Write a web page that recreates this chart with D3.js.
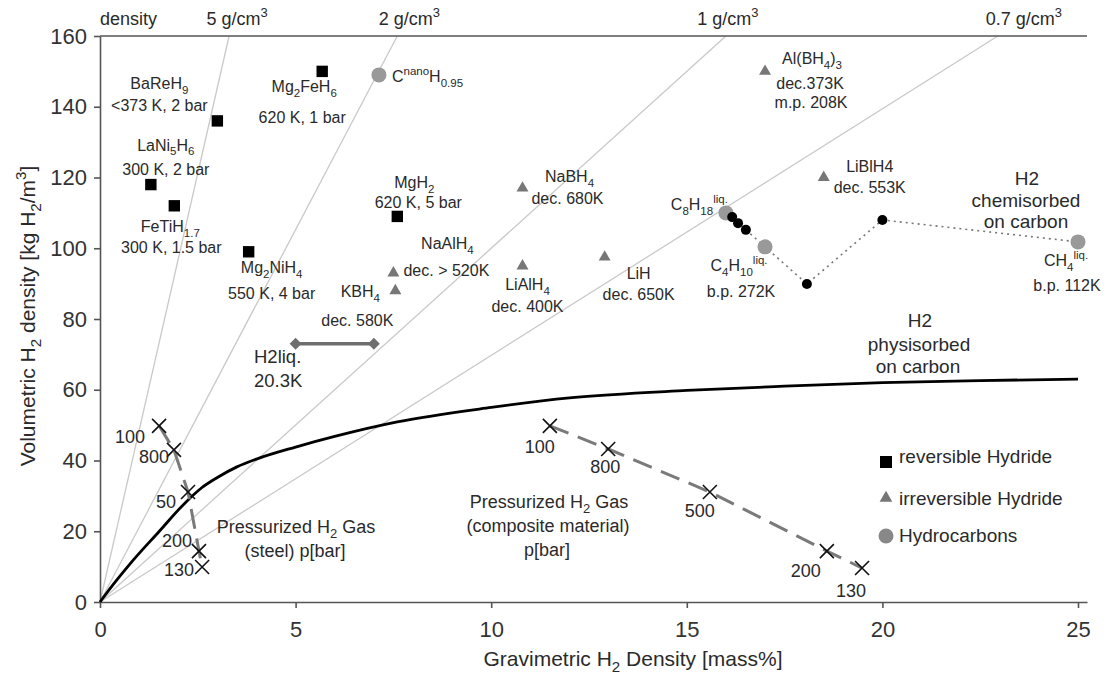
<!DOCTYPE html>
<html>
<head>
<meta charset="utf-8">
<script src="https://cdn.jsdelivr.net/npm/d3@7"></script>
<style>
  body { margin: 0; background: #fff; }
  svg { font-family: "Liberation Sans", Arial, sans-serif; }
</style>
</head>
<body>
<svg id="chart" width="1115" height="675"></svg>
<script>
// ---- data ----
const xTicks = [0, 5, 10, 15, 20, 25]
const yTicks = [0, 20, 40, 60, 80, 100, 120, 140, 160]

// iso-density lines run from the origin to where they hit the top (y = 160)
const densityLines = [
  {label: "5 g/cm{^3}", xTop: 3.3},
  {label: "2 g/cm{^3}", xTop: 7.6},
  {label: "1 g/cm{^3}", xTop: 16.0},
  {label: "0.7 g/cm{^3}", xTop: 22.95}
]

const reversible = [
  {name: "BaReH{_9}", notes: ["<373 K, 2 bar"], x: 3.0, y: 136},
  {name: "Mg{_2}FeH{_6}", notes: ["620 K, 1 bar"], x: 5.68, y: 150},
  {name: "LaNi{_5}H{_6}", notes: ["300 K, 2 bar"], x: 1.3, y: 118},
  {name: "FeTiH{_1.7}", notes: ["300 K, 1.5 bar"], x: 1.9, y: 112},
  {name: "Mg{_2}NiH{_4}", notes: ["550 K, 4 bar"], x: 3.8, y: 99},
  {name: "MgH{_2}", notes: ["620 K, 5 bar"], x: 7.6, y: 109}
]

const irreversible = [
  {name: "Al(BH{_4}){_3}", notes: ["dec.373K", "m.p. 208K"], x: 17.0, y: 150},
  {name: "LiBlH4", notes: ["dec. 553K"], x: 18.5, y: 120},
  {name: "NaBH{_4}", notes: ["dec. 680K"], x: 10.8, y: 117},
  {name: "NaAlH{_4}", notes: ["dec. > 520K"], x: 7.5, y: 93},
  {name: "KBH{_4}", notes: ["dec. 580K"], x: 7.55, y: 88},
  {name: "LiAlH{_4}", notes: ["dec. 400K"], x: 10.8, y: 95},
  {name: "LiH", notes: ["dec. 650K"], x: 12.9, y: 97.5}
]

const hydrocarbons = [
  {name: "C{^nano}H{_0.95}", notes: [], x: 7.13, y: 149},
  {name: "C{_8}H{_18}{^liq.}", notes: [], x: 16.0, y: 110},
  {name: "C{_4}H{_10}{^liq.}", notes: ["b.p. 272K"], x: 17.0, y: 100.4},
  {name: "CH{_4}{^liq.}", notes: ["b.p. 112K"], x: 25.0, y: 101.8}
]

// chemisorption path (dotted), black dots are the intermediate points
const chemiX = [16.0, 16.16, 16.31, 16.51, 17.0, 18.07, 20.0, 25.0]
const chemiY = [110, 108.8, 107.1, 105.2, 100.4, 89.9, 108, 101.8]
const chemiDots = [1, 2, 3, 5, 6]

const physiX = [0, 0.4, 0.8, 1.5, 2.2, 2.6, 3.0, 3.5, 4.0, 5.0, 6.0, 7.6, 10, 12, 15, 17.5, 20, 22.5, 25]
const physiY = [0, 5.8, 11.2, 19.8, 28.3, 32.3, 35.2, 38.2, 40.4, 43.8, 46.8, 50.9, 55, 57.7, 59.8, 61, 62, 62.6, 63]

const steelX = [1.51, 1.89, 2.25, 2.53, 2.61]
const steelY = [49.8, 43.0, 31.1, 14.4, 9.9]
const steelP = ["100", "800", "50", "200", "130"]

const compX = [11.5, 12.99, 15.59, 18.58, 19.48]
const compY = [49.8, 43.25, 31.1, 14.4, 9.6]
const compP = ["100", "800", "500", "200", "130"]

const h2liq = {x0: 5, x1: 7, y: 73}

const legendItems = ["reversible Hydride", "irreversible Hydride", "Hydrocarbons"]

// ---- layout: label offsets in px from the marker [dx, baseline dy] ----
const labelAt = {
  "BaReH{_9}": [[-58, -32], [-58, -10]],
  "Mg{_2}FeH{_6}": [[-18, 21], [-20, 52]],
  "LaNi{_5}H{_6}": [[15, -34], [15, -10]],
  "FeTiH{_1.7}": [[-4, 26], [-3, 47]],
  "Mg{_2}NiH{_4}": [[23, 21], [23, 47]],
  "MgH{_2}": [[17, -28], [21, -8]],
  "Al(BH{_4}){_3}": [[47, -7], [45, 18], [46, 37]],
  "LiBlH4": [[46, -6], [46, 15]],
  "NaBH{_4}": [[47, -6], [45, 16]],
  "NaAlH{_4}": [[54, -24], [53, 3]],
  "KBH{_4}": [[-35, 6], [-38, 35]],
  "LiAlH{_4}": [[5, 24], [5, 46]],
  "LiH": [[34, 22], [34, 43]],
  "C{^nano}H{_0.95}": [[13, 7]],
  "C{_8}H{_18}{^liq.}": [[2, -3]],
  "C{_4}H{_10}{^liq.}": [[-26, 24], [-24, 50]],
  "CH{_4}{^liq.}": [[-12, 24], [-11, 49]]
}
const steelOff = [[-29, 17], [-20, 13], [-22, 16], [-22, -4], [-23, 9]]
const compOff = [[-10, 27], [-3, 24], [-10, 25], [-21, 26], [-11, 29]]
const densOff = [8, 12, 2, 26]

const x = d3.scaleLinear().domain([0, 25.23]).range([100, 1087])
const y = d3.scaleLinear().domain([0, 160]).range([602, 36])
const ink = "#2a2a2a"
const svg = d3.select("#chart")

// text with {_sub} and {^sup} markup
function rich(sel, str, fs) {
  const parts = str.split(/(\{[_^][^}]*\})/).filter(s => s)
  let shift = 0
  parts.forEach(p => {
    const m = p.match(/^\{([_^])(.*)\}$/)
    const t = sel.append("tspan")
    if (m) {
      const d = m[1] === "_" ? fs * 0.3 : -fs * 0.42
      t.attr("dy", d - shift).attr("font-size", fs * 0.72).text(m[2])
      shift = d
    } else {
      t.attr("dy", -shift).text(p)
      shift = 0
    }
  })
  return sel
}
function label(str, px, py, fs, anchor) {
  const t = svg.append("text")
    .attr("x", px).attr("y", py)
    .attr("font-size", fs)
    .attr("fill", ink)
    .attr("text-anchor", anchor || "middle")
  return rich(t, str, fs)
}

// ---- density guide lines ----
svg.append("g").selectAll("line")
  .data(densityLines)
  .join("line")
  .attr("x1", x(0)).attr("y1", y(0))
  .attr("x2", d => x(d.xTop)).attr("y2", y(160))
  .attr("stroke", "#c9c9c9").attr("stroke-width", 1.3)

label("density", 100, 25, 18, "start")
densityLines.forEach((d, i) => label(d.label, x(d.xTop) + densOff[i], 25, 18))

// ---- axes ----
const xAxis = svg.append("g")
  .attr("transform", `translate(0,${y(0)})`)
  .call(d3.axisBottom(x).tickValues(xTicks).tickSize(6).tickSizeOuter(0).tickPadding(13))
const yAxis = svg.append("g")
  .attr("transform", `translate(${x(0)},0)`)
  .call(d3.axisLeft(y).tickValues(yTicks).tickSize(6).tickSizeOuter(0).tickPadding(7))
;[xAxis, yAxis].forEach(a => {
  a.selectAll("path, line").attr("stroke", "#555").attr("stroke-width", 1.6)
  a.selectAll("text").attr("font-size", 22).attr("fill", "#333")
    .attr("font-family", "Liberation Sans, Arial, sans-serif")
})
svg.append("line")
  .attr("x1", x(0)).attr("x2", x.range()[1])
  .attr("y1", y(160)).attr("y2", y(160))
  .attr("stroke", "#555").attr("stroke-width", 1.6)

label("Gravimetric H{_2} Density [mass%]", 633, 666, 21)
const yt = svg.append("text")
  .attr("transform", "translate(35,316) rotate(-90)")
  .attr("text-anchor", "middle").attr("font-size", 21).attr("fill", ink)
rich(yt, "Volumetric H{_2} density [kg H{_2}/m{^3}]", 21)

// ---- physisorption curve ----
svg.append("path")
  .datum(physiX.map((v, i) => [v, physiY[i]]))
  .attr("d", d3.line().x(d => x(d[0])).y(d => y(d[1])).curve(d3.curveMonotoneX))
  .attr("fill", "none").attr("stroke", "#000").attr("stroke-width", 2.8)

// ---- pressurized gas ----
function gasSeries(xs, ys, ps, offs) {
  const pts = xs.map((v, i) => [v, ys[i]])
  svg.append("path")
    .datum(pts)
    .attr("d", d3.line().x(d => x(d[0])).y(d => y(d[1])))
    .attr("fill", "none").attr("stroke", "#7a7a7a").attr("stroke-width", 3)
    .attr("stroke-dasharray", "20,10")
  const s = 7
  svg.append("g").selectAll("path")
    .data(pts)
    .join("path")
    .attr("d", d => {
      const cx = x(d[0]), cy = y(d[1])
      return `M${cx - s},${cy - s}L${cx + s},${cy + s}M${cx - s},${cy + s}L${cx + s},${cy - s}`
    })
    .attr("stroke", "#111").attr("stroke-width", 1.6)
  pts.forEach((d, i) => label(ps[i], x(d[0]) + offs[i][0], y(d[1]) + offs[i][1], 18))
}
gasSeries(steelX, steelY, steelP, steelOff)
gasSeries(compX, compY, compP, compOff)

label("Pressurized H{_2} Gas", 296, 533, 18)
label("(steel) p[bar]", 295, 557, 18)
label("Pressurized H{_2} Gas", 549, 508, 18)
label("(composite material)", 548, 532, 18)
label("p[bar]", 547, 556, 18)

// ---- liquid hydrogen ----
svg.append("line")
  .attr("x1", x(h2liq.x0)).attr("x2", x(h2liq.x1))
  .attr("y1", y(h2liq.y)).attr("y2", y(h2liq.y))
  .attr("stroke", "#6e6e6e").attr("stroke-width", 3.5)
svg.append("g").selectAll("path")
  .data([h2liq.x0, h2liq.x1])
  .join("path")
  .attr("transform", d => `translate(${x(d)},${y(h2liq.y)})`)
  .attr("d", d3.symbol(d3.symbolDiamond2, 90))
  .attr("fill", "#6e6e6e")
label("H2liq.", 254, 363, 18.5, "start")
label("20.3K", 254, 387, 18.5, "start")

// ---- chemisorption path ----
const chemi = chemiX.map((v, i) => [v, chemiY[i]])
svg.append("path")
  .datum(chemi.slice(3))
  .attr("d", d3.line().x(d => x(d[0])).y(d => y(d[1])))
  .attr("fill", "none").attr("stroke", "#777").attr("stroke-width", 1.6)
  .attr("stroke-dasharray", "2,4")

// ---- material markers ----
svg.append("g").selectAll("path")
  .data(reversible)
  .join("path")
  .attr("transform", d => `translate(${x(d.x)},${y(d.y)})`)
  .attr("d", d3.symbol(d3.symbolSquare, 130)()).attr("fill", "#000")
svg.append("g").selectAll("path")
  .data(irreversible)
  .join("path")
  .attr("transform", d => `translate(${x(d.x)},${y(d.y)})`)
  .attr("d", d3.symbol(d3.symbolTriangle, 62)()).attr("fill", "#777")
svg.append("g").selectAll("circle")
  .data(hydrocarbons)
  .join("circle")
  .attr("cx", d => x(d.x)).attr("cy", d => y(d.y)).attr("r", 7.5)
  .attr("fill", "#999")
// black dots sit on top of the C8H18 circle
svg.append("g").selectAll("circle")
  .data(chemiDots.map(i => chemi[i]))
  .join("circle")
  .attr("cx", d => x(d[0])).attr("cy", d => y(d[1])).attr("r", 5)
  .attr("fill", "#000")

;[...reversible, ...irreversible, ...hydrocarbons].forEach(d => {
  const off = labelAt[d.name]
  const px = x(d.x), py = y(d.y)
  const anchor = d.name.startsWith("C{^nano}") ? "start" : d.name.startsWith("C{_8}") ? "end" : "middle"
  label(d.name, px + off[0][0], py + off[0][1], 16, anchor)
  d.notes.forEach((n, i) => label(n, px + off[i + 1][0], py + off[i + 1][1], 16))
})

// ---- region labels ----
label("H2", 920, 327, 19)
label("physisorbed", 919, 351, 19)
label("on carbon", 918, 373, 19)
label("H2", 1027, 185, 19)
label("chemisorbed", 1026, 207, 19)
label("on carbon", 1026, 228, 19)

// ---- legend ----
const lg = svg.append("g").attr("transform", "translate(886,462)")
legendItems.forEach((t, i) => {
  const g = lg.append("g").attr("transform", `translate(0,${i * 37})`)
  if (i === 0) g.append("path").attr("d", d3.symbol(d3.symbolSquare, 144)()).attr("fill", "#000")
  if (i === 1) g.append("path").attr("transform", "translate(0,-1)").attr("d", d3.symbol(d3.symbolTriangle, 70)()).attr("fill", "#777")
  if (i === 2) g.append("circle").attr("r", 7.5).attr("fill", "#888")
  g.append("text").attr("x", 13).attr("y", i === 0 ? 1 : 6)
    .attr("font-size", 19).attr("fill", ink).text(t)
})
</script>
</body>
</html>
